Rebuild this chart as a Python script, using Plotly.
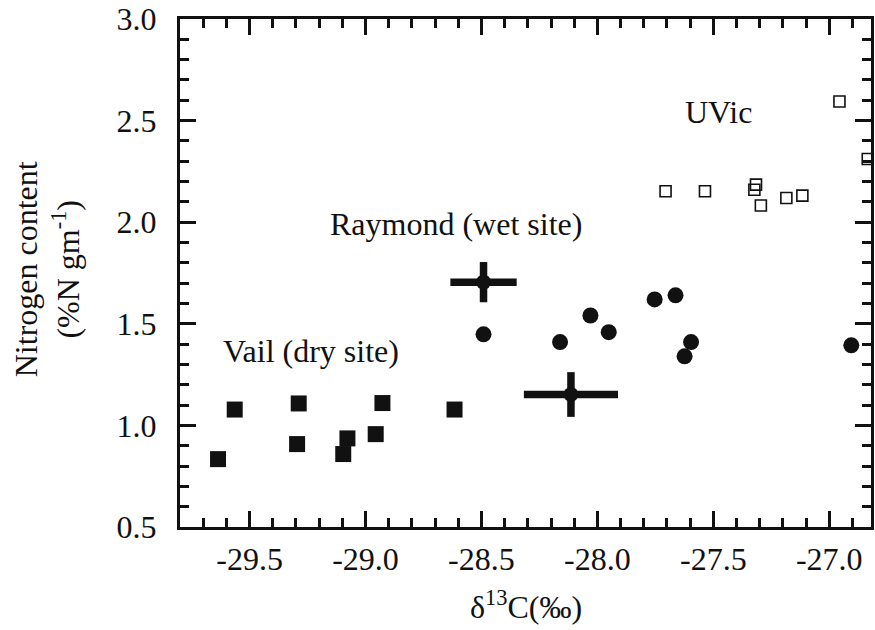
import plotly.graph_objects as go

# Vail (dry site): delta13C vs nitrogen content
vail_d13c = [-29.636, -29.564, -29.288, -29.295, -29.096, -29.078, -28.956, -28.927, -28.616]
vail_n = [0.834, 1.078, 1.108, 0.908, 0.859, 0.936, 0.957, 1.110, 1.078]

# Raymond (wet site)
raymond_d13c = [-28.491, -28.161, -28.030, -27.951, -27.753, -27.663, -27.596, -27.624, -26.905]
raymond_n = [1.448, 1.410, 1.541, 1.459, 1.620, 1.640, 1.410, 1.340, 1.394]

# Site means with spread (Raymond, Vail)
mean_d13c = [-28.491, -28.114]
mean_n = [1.705, 1.152]
mean_d13c_err = [0.143, 0.203]
mean_n_err = [0.099, 0.11]

# UVic
uvic_d13c = [-27.706, -27.536, -27.316, -27.323, -27.295, -27.185, -27.116, -26.956, -26.834]
uvic_n = [2.152, 2.152, 2.185, 2.160, 2.082, 2.119, 2.131, 2.594, 2.311]

x_ticks = [-29.5, -29.0, -28.5, -28.0, -27.5, -27.0]
x_tick_labels = ["-29.5", "-29.0", "-28.5", "-28.0", "-27.5", "-27.0"]
y_ticks = [0.5, 1.0, 1.5, 2.0, 2.5, 3.0]
y_tick_labels = ["0.5", "1.0", "1.5", "2.0", "2.5", "3.0"]

FONT = "Liberation Serif"
INK = "#111111"

fig = go.Figure()

fig.add_trace(go.Scatter(
    x=vail_d13c, y=vail_n, mode="markers",
    marker=dict(symbol="square", size=16, color=INK, line=dict(width=0)),
    cliponaxis=False, showlegend=False,
))
fig.add_trace(go.Scatter(
    x=raymond_d13c, y=raymond_n, mode="markers",
    marker=dict(symbol="circle", size=16, color=INK, line=dict(width=0)),
    cliponaxis=False, showlegend=False,
))
fig.add_trace(go.Scatter(
    x=mean_d13c, y=mean_n, mode="markers",
    marker=dict(symbol="circle", size=15, color=INK, line=dict(width=0)),
    error_x=dict(type="data", array=mean_d13c_err, thickness=7.5, width=0, color=INK),
    error_y=dict(type="data", array=mean_n_err, thickness=7.5, width=0, color=INK),
    cliponaxis=False, showlegend=False,
))
fig.add_trace(go.Scatter(
    x=uvic_d13c, y=uvic_n, mode="markers",
    marker=dict(symbol="square-open", size=11, color=INK, line=dict(width=1.6, color=INK)),
    cliponaxis=False, showlegend=False,
))

axis_common = dict(
    showline=True, linecolor=INK, linewidth=3, mirror="ticks",
    ticks="inside", ticklen=16, tickwidth=3, tickcolor=INK,
    showgrid=False, zeroline=False,
    tickfont=dict(family=FONT, size=32, color=INK),
)

fig.update_xaxes(
    range=[-29.80, -26.82], tickvals=x_ticks, ticktext=x_tick_labels,
    minor=dict(dtick=0.1, tick0=-29.5, ticks="inside", ticklen=9, tickwidth=3, tickcolor=INK),
    ticklabelstandoff=2,
    **axis_common,
)
fig.update_yaxes(
    range=[0.5, 3.0], tickvals=y_ticks, ticktext=y_tick_labels,
    minor=dict(dtick=0.1, tick0=0.5, ticks="inside", ticklen=9, tickwidth=3, tickcolor=INK),
    ticklabelstandoff=14,
    **axis_common,
)

text_font = dict(family=FONT, size=32, color=INK)
annotations = [
    dict(text="UVic", x=-27.477, y=2.543, xref="x", yref="y", showarrow=False,
         xanchor="center", yanchor="middle", font=text_font),
    dict(text="Raymond (wet site)", x=-28.609, y=1.993, xref="x", yref="y", showarrow=False,
         xanchor="center", yanchor="middle", font=text_font),
    dict(text="Vail (dry site)", x=-29.237, y=1.367, xref="x", yref="y", showarrow=False,
         xanchor="center", yanchor="middle", font=text_font),
    dict(text="δ<sup>13</sup>C(‰)", x=0.5, y=-0.153, xref="paper", yref="paper",
         showarrow=False, xanchor="center", yanchor="middle", font=text_font),
    dict(text="Nitrogen content<br>(%N gm<sup>-1</sup>)", x=-0.192, y=0.508,
         xref="paper", yref="paper", showarrow=False, textangle=-90,
         xanchor="center", yanchor="middle", font=text_font),
]

fig.update_layout(
    width=875, height=630,
    margin=dict(l=180, r=1, t=18, b=103),
    paper_bgcolor="white", plot_bgcolor="white",
    annotations=annotations,
    font=dict(family=FONT, color=INK),
)

fig.write_html("out.html")
